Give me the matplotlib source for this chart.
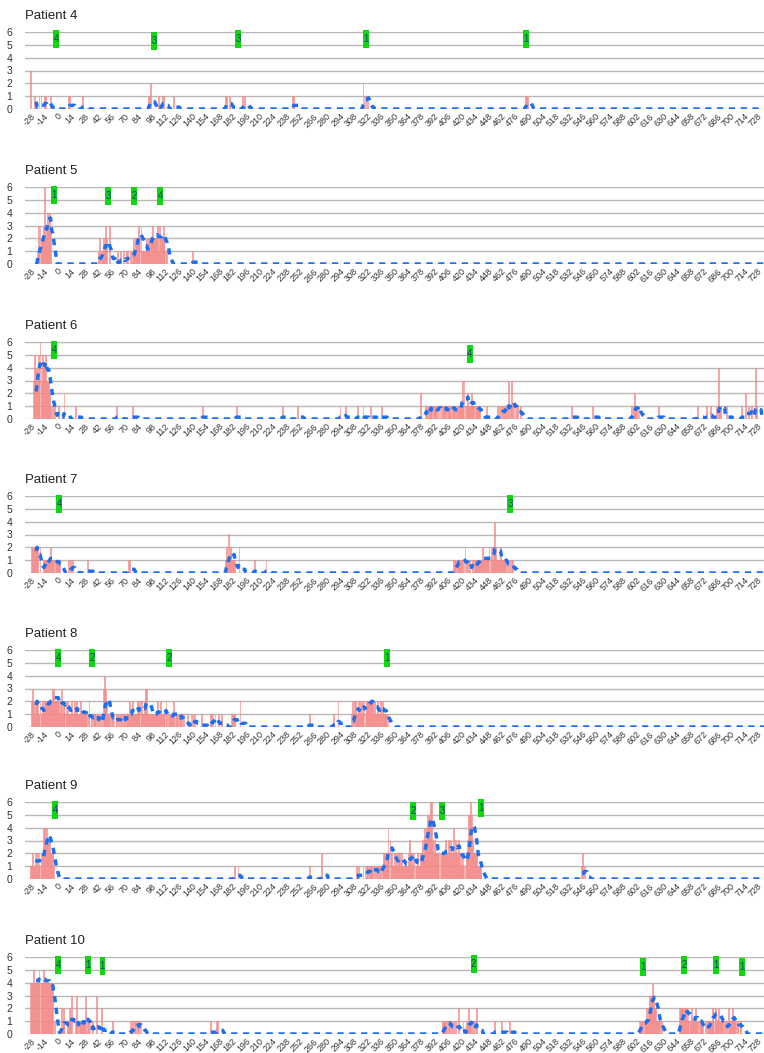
import numpy as np
import pandas as pd
import matplotlib
matplotlib.use("Agg")
import matplotlib.pyplot as plt
from matplotlib.patches import Rectangle

plt.rcParams['font.family'] = ['Liberation Sans', 'DejaVu Sans']

DAY_START, DAY_END = -28, 745
days = np.arange(DAY_START, DAY_END + 1)
tick_days = list(range(-28, 729, 14))

patients = ["Patient 4", "Patient 5", "Patient 6", "Patient 7",
            "Patient 8", "Patient 9", "Patient 10"]

# daily counts: {first day: one digit per consecutive day}
p4_counts = {-28: "3", -24: "1", -19: "101", -13: "11", -7: "1", 12: "11", 26: "1",
             95: "112", 105: "1", 109: "11", 121: "1", 175: "11", 179: "1",
             193: "101", 245: "11", 318: "2111", 323: "1", 487: "111"}
p5_counts = {-21: "131312236234343", 43: "120112132", 54: "3", 63: "1", 66: "1",
             69: "1", 72: "11",
             76: "10121" "22232" "23111" "11212" "22232" "22231" "32223" "2111",
             141: "1"}
p6_counts = {-25: "3543453643544533321", -5: "101", 1: "1", 7: "2", 19: "1", 62: "1",
             78: "1", 151: "1", 186: "1", 234: "1", 250: "1", 294: "1", 300: "1",
             312: "1", 318: "1", 326: "1", 337: "1",
             378: "2" "0000" "1101111" "0111101" "1110111" "1011110" "1110111"
                  "1113131" "1121112" "1101111" "10000001",
             458: "1010110110130131011011001", 535: "1", 557: "1", 597: "101211011",
             625: "1", 666: "1", 675: "1", 679: "1", 686: "10411", 696: "1",
             712: "1", 716: "2", 719: "1", 722: "1", 726: "41"}
p7_counts = {-27: "2222222", -18: "2", -14: "11111112111011111", 12: "10101", 31: "1",
             74: "11", 175: "121312111100002", 205: "1", 217: "1",
             412: "1110111111" "0120110100" "1011111111" "2111111211" "2124211112"
                  "111110101011"}
p8_counts = {-27: "2321222" "1121121" "222222" "22332222" "212312" "21212" "1112112121"
                  "1121111" "1101201" "10111" "0101010" "3432" "11101" "1010110101"
                  "10110111" "2112111" "122121211" "23311" "1111111" "121121111"
                  "12101111" "1201110" "11101" "0001000" "1010100" "000010000"
                  "000011010100" "0100100" "0000000" "1111000002",
             262: "1", 287: "1", 292: "2",
             306: "1202211212" "1212122222" "2221211211" "212111101"}
p9_counts = {-28: "1121121212" "1122443433" "32221", 184: "1", 188: "1", 262: "1",
             275: "2", 311: "101",
             318: "1010110111" "1010110110" "1221224232" "2112121221" "2111111232"
                  "1212111211" "2232434554" "6632322222" "2222223223" "2322423223"
                  "2121211223" "5565322221" "111",
             545: "1201"}
p10_counts = {-28: "444544444544445444444444", -3: "1",
              4: "2121000112" "1300013101" "1111130110" "1001000300" "002",
              57: "1", 76: "101011011011", 159: "1", 166: "11",
              401: "1111101101" "0101002000" "0100011211" "0101020",
              455: "1", 462: "1", 470: "1",
              605: "1111101121" "2333432211" "1101",
              647: "2222122212" "1112111211" "0111100101" "1111221221" "1211110101"
                   "0211121110" "11011"}

# green event markers: day, label, height
p4_marks = ([-1, 101, 188, 321, 487], ["4", "3", "3", "1", "1"], [5.45, 5.3, 5.45, 5.45, 5.45])
p5_marks = ([-3, 53, 80, 107], ["1", "3", "2", "4"], [5.4, 5.3, 5.3, 5.3])
p6_marks = ([-3, 429], ["4", "4"], [5.4, 5.1])
p7_marks = ([2, 471], ["4", "3"], [5.4, 5.4])
p8_marks = ([1, 36, 116, 343], ["4", "2", "2", "1"], [5.4, 5.4, 5.4, 5.4])
p9_marks = ([-2, 370, 400, 441], ["4", "2", "3", "1"], [5.4, 5.3, 5.3, 5.5])
p10_marks = ([1, 32, 47, 433, 609, 652, 685, 712],
             ["4", "1", "1", "2", "1", "2", "1", "1"],
             [5.4, 5.4, 5.3, 5.45, 5.2, 5.35, 5.35, 5.2])

all_counts = [p4_counts, p5_counts, p6_counts, p7_counts, p8_counts, p9_counts, p10_counts]
all_marks = [p4_marks, p5_marks, p6_marks, p7_marks, p8_marks, p9_marks, p10_marks]


def expand(counts):
    v = np.zeros(len(days), dtype=int)
    for start, digits in counts.items():
        for i, ch in enumerate(digits):
            v[start - DAY_START + i] = int(ch)
    return v


W, H = 764, 1053
fig = plt.figure(figsize=(W / 100, H / 100), dpi=100)
bottoms_px = [109, 264, 419, 573, 727, 879, 1034]
AX_H = 77
LEFT = 25

for name, counts, marks, bpx in zip(patients, all_counts, all_marks, bottoms_px):
    ax = fig.add_axes([LEFT / W, 1 - bpx / H, (W - LEFT) / W, AX_H / H])
    vals = expand(counts)
    for k in range(vals.max()):
        m = vals > k
        ax.bar(days[m], np.ones(m.sum()), bottom=k, width=0.9,
               color='#fbbdbd', edgecolor='#f27b7b', linewidth=0.4, zorder=2)
    avg = pd.Series(vals, index=days).rolling(7).mean()
    ax.plot(avg.index, avg.values, color='#1d6ff0', lw=2.5,
            linestyle=(0, (1.8, 1.6)), dash_capstyle='butt', zorder=3)
    mdays, mlabels, my = marks
    for d, lab, y in zip(mdays, mlabels, my):
        ax.add_patch(Rectangle((d - 3.1, y - 0.7), 6.2, 1.4, facecolor='#10d810',
                               edgecolor='none', zorder=4, clip_on=False))
        ax.text(d, y, lab, ha='center', va='center', fontsize=7,
                color='#173a80', zorder=5, clip_on=False)
    ax.set_xlim(-33.6, 735)
    ax.set_ylim(0, 6)
    ax.set_yticks(range(0, 7))
    ax.set_xticks(tick_days)
    ax.set_xticklabels([str(t) for t in tick_days])
    for s in ax.spines.values():
        s.set_visible(False)
    ax.yaxis.grid(True, color='#b8b8b8', lw=1.0, zorder=0)
    ax.set_axisbelow(True)
    ax.tick_params(axis='y', length=0, pad=9, labelsize=7.5, labelcolor='#333333')
    ax.tick_params(axis='x', length=0, pad=2, labelsize=6.5, labelcolor='#333333')
    for lab in ax.get_xticklabels():
        lab.set_rotation(45)
        lab.set_ha('right')
        lab.set_va('top')
        lab.set_rotation_mode('anchor')
    top_px = bpx - AX_H
    fig.text(LEFT / W, 1 - (top_px - 16) / H, name, ha='left', va='center',
             fontsize=9.5, color='#222222')

fig.savefig('out.png', dpi=100)
